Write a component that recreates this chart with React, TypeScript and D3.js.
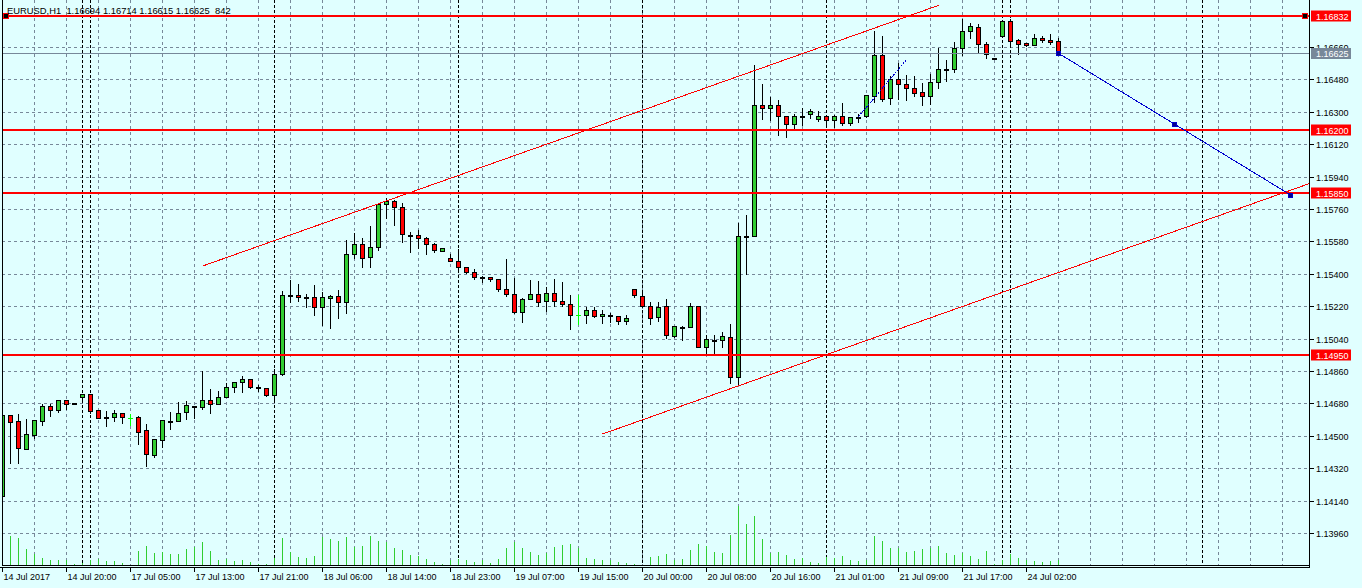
import * as d3 from "d3";

const W = 1362;
const H = 588;

// H1 candles, 14 Jul 2017 12:00 .. 24 Jul 2017 06:00
const opens = [
  1.14165, 1.14613, 1.14582, 1.14428, 1.14506, 1.14584, 1.14664, 1.14645, 1.14699, 1.1468,
  1.14714, 1.14732, 1.14641, 1.14607, 1.14602, 1.14625, 1.14597, 1.14602, 1.1453, 1.14395,
  1.14475, 1.1458, 1.1458, 1.1463, 1.14667, 1.14661, 1.14697, 1.14678, 1.14714, 1.14769,
  1.14797, 1.14814, 1.14772, 1.14764, 1.14725, 1.14841, 1.15282, 1.1528, 1.15269, 1.15269,
  1.15214, 1.15264, 1.15275, 1.15245, 1.15508, 1.15565, 1.15491, 1.15547, 1.15788, 1.15803,
  1.15769, 1.15617, 1.15614, 1.15597, 1.15565, 1.15528, 1.15486, 1.15471, 1.15436, 1.1541,
  1.1538, 1.1538, 1.15369, 1.15314, 1.15289, 1.15186, 1.1526, 1.15288, 1.15247, 1.15293,
  1.15249, 1.15232, 1.15171, 1.15169, 1.15199, 1.15164, 1.15169, 1.15165, 1.15136, 1.15315,
  1.15276, 1.15219, 1.15158, 1.15219, 1.15054, 1.15106, 1.15102, 1.15219, 1.14991, 1.15034,
  1.1503, 1.15047, 1.14828, 1.15608, 1.15608, 1.16336, 1.16323, 1.16336, 1.16278, 1.16234,
  1.16278, 1.16286, 1.16262, 1.16275, 1.16253, 1.16275, 1.16236, 1.16273, 1.16274, 1.1639,
  1.16615, 1.16374, 1.16481, 1.16453, 1.16431, 1.16408, 1.16389, 1.16464, 1.16538, 1.16538,
  1.16653, 1.16749, 1.16769, 1.16675, 1.166, 1.16723, 1.16804, 1.16699, 1.16682, 1.16669,
  1.16708, 1.16699, 1.16694,
];
const highs = [
  1.14626, 1.14621, 1.14626, 1.14597, 1.14593, 1.14684, 1.1468, 1.14704, 1.14704, 1.14682,
  1.14739, 1.14739, 1.14643, 1.14643, 1.14647, 1.14625, 1.14625, 1.14614, 1.14569, 1.14489,
  1.14586, 1.14637, 1.14693, 1.14699, 1.14668, 1.14864, 1.14764, 1.14753, 1.14797, 1.14802,
  1.14836, 1.14819, 1.14786, 1.14769, 1.14875, 1.1531, 1.15373, 1.15349, 1.15291, 1.15341,
  1.15304, 1.15286, 1.15315, 1.15591, 1.15632, 1.15604, 1.15671, 1.15799, 1.15828, 1.15815,
  1.158, 1.15636, 1.15647, 1.1561, 1.15575, 1.15549, 1.15515, 1.15543, 1.15443, 1.15432,
  1.15395, 1.15384, 1.15369, 1.15488, 1.1538, 1.15273, 1.15371, 1.15364, 1.1533, 1.15376,
  1.1536, 1.15286, 1.15286, 1.15221, 1.15221, 1.15204, 1.15189, 1.15169, 1.15175, 1.15315,
  1.15299, 1.1525, 1.15247, 1.15265, 1.15108, 1.15114, 1.15241, 1.15219, 1.15064, 1.15065,
  1.1508, 1.15125, 1.15689, 1.15732, 1.16564, 1.16461, 1.16386, 1.16371, 1.16284, 1.16295,
  1.16325, 1.16321, 1.1631, 1.16288, 1.16286, 1.16356, 1.16275, 1.16292, 1.16393, 1.16757,
  1.16727, 1.16504, 1.16575, 1.1651, 1.16504, 1.16467, 1.16514, 1.16662, 1.16593, 1.16693,
  1.16823, 1.16797, 1.16792, 1.16695, 1.16606, 1.1681, 1.16819, 1.16708, 1.16686, 1.16739,
  1.16727, 1.16739, 1.16714,
];
const lows = [
  1.1416, 1.14349, 1.14347, 1.14426, 1.14489, 1.14561, 1.1461, 1.14634, 1.1465, 1.14678,
  1.14689, 1.14628, 1.14597, 1.14556, 1.14584, 1.14572, 1.1456, 1.14454, 1.14334, 1.14384,
  1.14436, 1.14539, 1.1458, 1.14595, 1.14599, 1.1465, 1.14628, 1.14675, 1.14714, 1.14743,
  1.14745, 1.14767, 1.1475, 1.14721, 1.14695, 1.14837, 1.15245, 1.15249, 1.15217, 1.15173,
  1.15117, 1.151, 1.15156, 1.15182, 1.15486, 1.15439, 1.15439, 1.15534, 1.15708, 1.15673,
  1.15575, 1.15519, 1.15545, 1.15508, 1.15521, 1.15525, 1.15469, 1.15426, 1.15402, 1.15373,
  1.15354, 1.1536, 1.15303, 1.15278, 1.1518, 1.15134, 1.1526, 1.15223, 1.15195, 1.15223,
  1.15223, 1.15091, 1.15119, 1.15128, 1.15158, 1.15125, 1.15132, 1.15119, 1.15119, 1.15269,
  1.15219, 1.15119, 1.15136, 1.15041, 1.1505, 1.15034, 1.15102, 1.14991, 1.14954, 1.14954,
  1.14995, 1.14791, 1.14782, 1.15399, 1.15608, 1.16262, 1.16256, 1.16171, 1.16161, 1.16206,
  1.16225, 1.16265, 1.1625, 1.16221, 1.16217, 1.16227, 1.16227, 1.16243, 1.16273, 1.16356,
  1.1636, 1.16346, 1.1637, 1.16367, 1.16388, 1.16338, 1.16341, 1.16434, 1.16473, 1.16523,
  1.16615, 1.16712, 1.16634, 1.16597, 1.16593, 1.16723, 1.16662, 1.16619, 1.16665, 1.16669,
  1.16686, 1.16675, 1.16615,
];
const closes = [
  1.14615, 1.14579, 1.14434, 1.14508, 1.14588, 1.14665, 1.14645, 1.14697, 1.14678, 1.1468,
  1.14732, 1.14639, 1.146, 1.14604, 1.14625, 1.14602, 1.14597, 1.14522, 1.14397, 1.1448,
  1.14586, 1.1458, 1.14626, 1.14671, 1.14667, 1.14697, 1.14678, 1.14714, 1.14769, 1.14797,
  1.14814, 1.14769, 1.14772, 1.14725, 1.14841, 1.1528, 1.15282, 1.15269, 1.15269, 1.15214,
  1.15269, 1.15276, 1.15245, 1.15508, 1.15565, 1.15486, 1.15547, 1.15788, 1.15803, 1.15769,
  1.15619, 1.15617, 1.15597, 1.15564, 1.1553, 1.15541, 1.15469, 1.15436, 1.15408, 1.1538,
  1.1538, 1.15369, 1.15314, 1.15286, 1.15186, 1.1526, 1.15288, 1.15241, 1.15293, 1.15247,
  1.15232, 1.15169, 1.15171, 1.15199, 1.15164, 1.15176, 1.15169, 1.15136, 1.15153, 1.1528,
  1.15219, 1.15153, 1.15215, 1.15058, 1.15108, 1.15106, 1.15219, 1.14995, 1.15036, 1.15034,
  1.15052, 1.14828, 1.1561, 1.15608, 1.16336, 1.16323, 1.16336, 1.16278, 1.16234, 1.16275,
  1.16278, 1.16304, 1.16275, 1.16253, 1.16275, 1.16236, 1.16269, 1.16273, 1.16392, 1.16615,
  1.16371, 1.16481, 1.16456, 1.16434, 1.16407, 1.16389, 1.16464, 1.16538, 1.16538, 1.16653,
  1.16749, 1.16777, 1.16675, 1.16619, 1.166, 1.16804, 1.16695, 1.16675, 1.16669, 1.16708,
  1.16697, 1.16686, 1.16625,
];
// tick volumes
const volumes = [
  3400, 4920, 4590, 2690, 1800, 1180, 840, 840, 840, 120,
  340, 840, 1010, 670, 670, 340, 80, 2350, 3190, 2070,
  2180, 1900, 1900, 2690, 3020, 3910, 2350, 840, 1010, 670,
  840, 500, 170, 170, 1180, 4540, 2180, 1340, 1180, 1510,
  4700, 4370, 4030, 4700, 3070, 3190, 4870, 4030, 3860, 2860,
  2520, 1680, 1510, 1010, 500, 170, 840, 960, 840, 500,
  840, 340, 1010, 2860, 3860, 2860, 2180, 1680, 2020, 3020,
  3360, 3530, 2860, 1180, 1010, 840, 840, 500, 340, 170,
  80, 1340, 1510, 1850, 840, 1010, 2520, 3530, 3190, 2180,
  2020, 5040, 9910, 6890, 8230, 4370, 2020, 2180, 1680, 1010,
  1180, 500, 340, 1340, 1180, 1510, 840, 670, 840, 4870,
  4030, 2860, 2860, 2180, 2350, 2690, 2860, 3190, 2020, 1680,
  2020, 1510, 1010, 2350, 170, 840, 1850, 1180, 840, 670,
  500, 670, 842,
];
// bars with open == close drawn in the line colour
const flatBars = [16, 72];

// one label every 8 bars
const timeLabels = [
  "14 Jul 2017", "14 Jul 20:00", "17 Jul 05:00", "17 Jul 13:00", "17 Jul 21:00",
  "18 Jul 06:00", "18 Jul 14:00", "18 Jul 23:00", "19 Jul 07:00", "19 Jul 15:00",
  "20 Jul 00:00", "20 Jul 08:00", "20 Jul 16:00", "21 Jul 01:00", "21 Jul 09:00",
  "21 Jul 17:00", "24 Jul 02:00",
];
const priceTicks = [
  1.1396, 1.1414, 1.1432, 1.145, 1.1468, 1.1486, 1.1504, 1.1522,
  1.154, 1.1558, 1.1576, 1.1594, 1.1612, 1.163, 1.1648, 1.1666,
];
const levelLines = [1.16832, 1.162, 1.1585, 1.1495];
const separatorBars = [10, 11, 34, 57, 80, 103, 125, 126, 150];
const bidPrice = 1.16625;

// objects: [bar, price]
const channelTop = [[25, 1.15443], [117, 1.16891]];
const channelBottom = [[75, 1.1451], [161, 1.15864]];
const projection = [[132, 1.16625], [161, 1.15838]];
const miniTrend = [[107, 1.16273], [113, 1.1659]];

const header = "EURUSD,H1  1.16694 1.16714 1.16615 1.16625  842";

const BG = "#E0FFFF";
const GRID = "#778899";
const BULL = "#32CD32";
const BEAR = "#FF0000";
const VOL = "#32CD32";
const FONT = "'Liberation Sans', Arial, sans-serif";

const LEFT = 2;
const RIGHT = 1309;
const BOTTOM = 565;

export default function App() {
  const x = d3.scaleLinear().domain([0, 160]).range([2.5, 1282.5]);
  const y = d3.scaleLinear().domain([1.1396, 1.1666]).range([533, 47]);
  const yv = d3.scaleLinear().domain([0, 10000]).range([BOTTOM, BOTTOM - 59.5]);
  const fmt = d3.format(".5f");
  const py = (p: number) => Math.round(y(p)) + 0.5;

  const gridBars = d3.range(4, 161, 4);
  const line = d3
    .line<number[]>()
    .x((d) => x(d[0]))
    .y((d) => y(d[1]));

  // extend the lower channel line to the right edge
  const slope = (channelBottom[1][1] - channelBottom[0][1]) / (channelBottom[1][0] - channelBottom[0][0]);
  const edgeBar = x.invert(RIGHT);
  const bottomRay = [
    channelBottom[0],
    [edgeBar, channelBottom[0][1] + slope * (edgeBar - channelBottom[0][0])],
  ];
  const projMid = [
    (projection[0][0] + projection[1][0]) / 2,
    (projection[0][1] + projection[1][1]) / 2,
  ];

  return (
    <svg
      width={W}
      height={H}
      viewBox={`0 0 ${W} ${H}`}
      style={{ position: "absolute", left: 0, top: 0, display: "block", fontFamily: FONT }}
    >
      <defs>
        <clipPath id="plot">
          <rect x={LEFT} y={0} width={RIGHT - LEFT} height={BOTTOM} />
        </clipPath>
      </defs>
      <rect width={W} height={H} fill={BG} />

      <g clipPath="url(#plot)" shapeRendering="crispEdges">
        {/* grid */}
        {gridBars.map((b) => (
          <line key={"gv" + b} x1={x(b)} x2={x(b)} y1={0} y2={BOTTOM} stroke={GRID} strokeDasharray="3,3" />
        ))}
        {priceTicks.map((p) => (
          <line key={"gh" + p} x1={LEFT} x2={RIGHT} y1={py(p)} y2={py(p)} stroke={GRID} strokeDasharray="3,3" />
        ))}
        {/* period separators */}
        {separatorBars.map((b) => (
          <line key={"sep" + b} x1={x(b)} x2={x(b)} y1={0} y2={BOTTOM} stroke="#000" strokeDasharray="3,2" />
        ))}

        {/* volumes */}
        {volumes.map((v, i) => (
          <line key={"v" + i} x1={x(i)} x2={x(i)} y1={BOTTOM} y2={Math.round(yv(v))} stroke={VOL} />
        ))}

        {/* candles */}
        {opens.map((o, i) => {
          const c = closes[i];
          const cx = x(i);
          const top = Math.round(y(Math.max(o, c)));
          const bot = Math.round(y(Math.min(o, c)));
          const flat = flatBars.includes(i);
          const wickColor = flat ? "#00FF00" : "#000";
          return (
            <g key={"c" + i}>
              <line x1={cx} x2={cx} y1={py(highs[i])} y2={py(lows[i])} stroke={wickColor} />
              {bot - top < 1 ? (
                <line x1={cx - 2.5} x2={cx + 2.5} y1={top + 0.5} y2={top + 0.5} stroke={wickColor} strokeWidth={flat ? 1 : 2} />
              ) : (
                <rect
                  x={cx - 2}
                  y={top + 0.5}
                  width={4}
                  height={bot - top}
                  fill={c >= o ? BULL : BEAR}
                  stroke="#000"
                />
              )}
            </g>
          );
        })}

        {/* bid line */}
        <line x1={LEFT} x2={RIGHT} y1={py(bidPrice)} y2={py(bidPrice)} stroke={GRID} />

        {/* horizontal levels */}
        {levelLines.map((p) => (
          <line key={"lv" + p} x1={LEFT} x2={RIGHT} y1={Math.round(y(p))} y2={Math.round(y(p))} stroke={BEAR} strokeWidth={2} />
        ))}

        {/* channel */}
        <path d={line(channelTop) || ""} fill="none" stroke={BEAR} />
        <path d={line(bottomRay) || ""} fill="none" stroke={BEAR} />

        {/* projection */}
        <path d={line(projection) || ""} fill="none" stroke="#0000CD" />
        <path d={line(miniTrend) || ""} fill="none" stroke="#0000CD" strokeDasharray="2,1" />
        {[projection[0], projMid, projection[1]].map((d, k) => (
          <rect
            key={"pm" + k}
            x={Math.round(x(d[0])) - 2.5}
            y={Math.round(y(d[1])) - 1.5}
            width={4}
            height={4}
            fill="#00008B"
            stroke="#0000CD"
          />
        ))}

        {/* selection markers of the top level */}
        <rect x={3.5} y={Math.round(y(levelLines[0])) - 2.5} width={5} height={5} fill="#000" stroke={BEAR} />
        <rect x={RIGHT - 6.5} y={Math.round(y(levelLines[0])) - 2.5} width={5} height={5} fill="#000" stroke={BEAR} />
      </g>

      {/* frame */}
      <g shapeRendering="crispEdges" stroke="#000">
        <line x1={LEFT + 0.5} x2={LEFT + 0.5} y1={0} y2={BOTTOM} />
        <line x1={RIGHT + 0.5} x2={RIGHT + 0.5} y1={0} y2={BOTTOM + 3} />
        <line x1={LEFT} x2={RIGHT + 1} y1={BOTTOM + 0.5} y2={BOTTOM + 0.5} />
        <line x1={0} x2={RIGHT + 1} y1={BOTTOM + 2.5} y2={BOTTOM + 2.5} />
      </g>

      {/* price axis */}
      <g fontSize={9} fill="#000">
        {priceTicks.map((p) => (
          <g key={"pt" + p}>
            <line x1={RIGHT + 1} x2={RIGHT + 5} y1={py(p)} y2={py(p)} stroke="#000" shapeRendering="crispEdges" />
            <text x={RIGHT + 7} y={py(p) + 3.5}>{fmt(p)}</text>
          </g>
        ))}
        <rect x={RIGHT + 2} y={Math.round(y(bidPrice)) - 5} width={40} height={11} fill={GRID} />
        <text x={RIGHT + 7} y={Math.round(y(bidPrice)) + 4} fill="#fff">{fmt(bidPrice)}</text>
        {levelLines.map((p) => (
          <g key={"ll" + p}>
            <rect x={RIGHT + 2} y={Math.round(y(p)) - 5.5} width={40} height={11} fill={BEAR} />
            <text x={RIGHT + 7} y={Math.round(y(p)) + 3.5} fill="#fff">{fmt(p)}</text>
          </g>
        ))}
      </g>

      {/* time axis */}
      <g fontSize={9} fill="#000">
        {timeLabels.map((t, k) => (
          <g key={"tl" + k}>
            <line x1={x(k * 8)} x2={x(k * 8)} y1={BOTTOM + 3} y2={BOTTOM + 7} stroke="#000" shapeRendering="crispEdges" />
            <text x={x(k * 8) + 1} y={580}>{t}</text>
          </g>
        ))}
      </g>

      <text x={7} y={13.5} fontSize={9.4} fill="#000" style={{ whiteSpace: "pre" }}>
        {header}
      </text>
    </svg>
  );
}
